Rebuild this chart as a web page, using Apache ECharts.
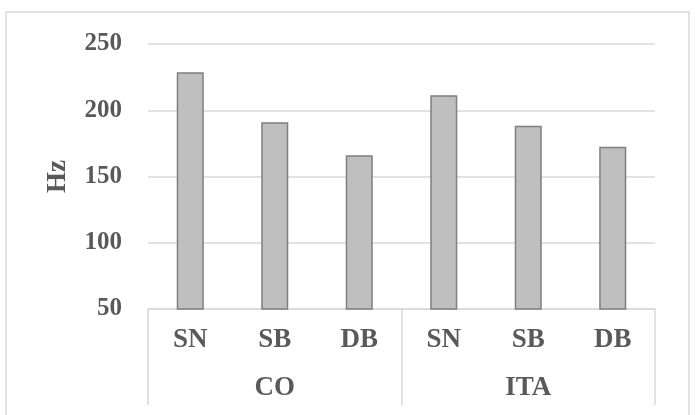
<!DOCTYPE html>
<html>
<head>
    <meta charset="utf-8">
    <title>Hz by group</title>
    <script src="https://cdn.jsdelivr.net/npm/echarts@6/dist/echarts.min.js"></script>
    <style>
        html, body { margin: 0; padding: 0; background: #fff; }
        #chart { width: 695px; height: 415px; }
    </style>
</head>
<body>
    <div id="chart"></div>
    <script type="text/javascript">
        var categories = ['SN', 'SB', 'DB', 'SN', 'SB', 'DB'];
        var groups = ['CO', 'ITA'];
        var values = [228.6, 190.9, 166, 211.3, 188.3, 172.5];
        var yTicks = [50, 250, 50]; // min, max, interval

        var textColor = '#595959';
        var lineColor = '#d9d9d9';
        var font = '"Liberation Serif", "Times New Roman", serif';

        var chart = echarts.init(document.getElementById('chart'), null, { renderer: 'canvas' });
        chart.setOption({
            animation: false,
            graphic: [{
                type: 'rect',
                shape: { x: 6, y: 12, width: 683, height: 420 },
                style: { fill: 'none', stroke: lineColor, lineWidth: 1.5 },
                silent: true
            }],
            grid: { left: 148, right: 40, top: 44, bottom: 106 },
            xAxis: [{
                type: 'category',
                data: categories,
                axisLine: { show: true, lineStyle: { color: lineColor, width: 1.5 } },
                axisTick: { show: false },
                axisLabel: { margin: 18, color: textColor, fontFamily: font, fontWeight: 'bold', fontSize: 27 }
            }, {
                type: 'category',
                data: groups,
                position: 'bottom',
                axisLine: { show: false },
                axisTick: { show: true, length: 96, lineStyle: { color: lineColor, width: 1.5 } },
                axisLabel: { margin: 66, color: textColor, fontFamily: font, fontWeight: 'bold', fontSize: 27 }
            }],
            yAxis: {
                type: 'value',
                min: yTicks[0],
                max: yTicks[1],
                interval: yTicks[2],
                name: 'Hz',
                nameLocation: 'middle',
                nameGap: 76,
                nameRotate: 90,
                nameTextStyle: { color: textColor, fontFamily: font, fontWeight: 'bold', fontSize: 27 },
                axisLine: { show: false },
                axisTick: { show: false },
                splitLine: { lineStyle: { color: lineColor, width: 1.5 } },
                axisLabel: { margin: 26, color: textColor, fontFamily: font, fontWeight: 'bold', fontSize: 25 }
            },
            series: [{
                type: 'bar',
                data: values,
                barWidth: '32%',
                itemStyle: { color: '#bfbfbf', borderColor: '#7f7f7f', borderWidth: 1.5 }
            }]
        });
    </script>
</body>
</html>
